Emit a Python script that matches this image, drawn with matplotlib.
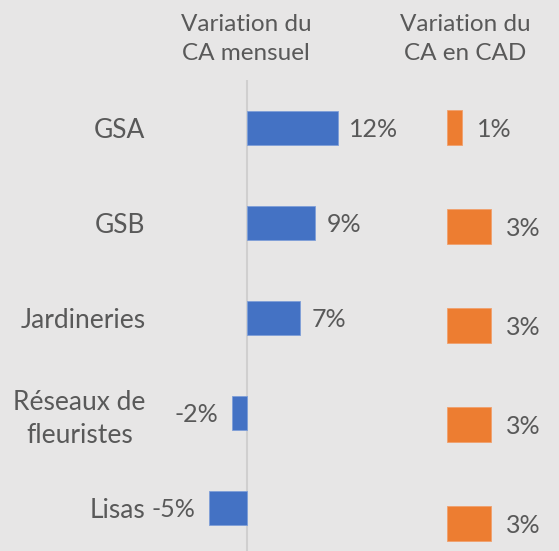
import matplotlib
matplotlib.use("Agg")
import matplotlib.pyplot as plt
import matplotlib.transforms as mtransforms

plt.rcParams['font.family'] = ['Lato', 'DejaVu Sans']

categories = ["GSA", "GSB", "Jardineries", "Réseaux de\nfleuristes", "Lisas"]
var_mensuel = [12, 9, 7, -2, -5]
var_cad = [1, 3, 3, 3, 3]
title_left = "Variation du\nCA mensuel"
title_right = "Variation du\nCA en CAD"

BG = "#E7E6E6"
TXT = "#595959"
BLUE = "#4472C4"
ORANGE = "#ED7D31"

W, H = 559, 551
fig = plt.figure(figsize=(W / 100, H / 100), dpi=100, facecolor=BG)


def add_px_axes(x0, y0, x1, y1):
    # pixel coords from top-left
    return fig.add_axes([x0 / W, 1 - y1 / H, (x1 - x0) / W, (y1 - y0) / H])


def px(dx, dy):
    return mtransforms.ScaledTranslation(dx / 100, -dy / 100, fig.dpi_scale_trans)


# ---- left panel
axL = add_px_axes(190, 80, 350, 551)
axL.set_facecolor("none")
pos = list(range(len(categories)))
axL.barh(pos, var_mensuel, height=0.35, color=BLUE, edgecolor="#7f9fd8", linewidth=0.6, zorder=3)
axL.set_xlim(-7.5, 13.55)
axL.set_ylim(4.453, -0.505)
axL.axvline(0, color="#D0CFCF", lw=1.5, zorder=2)
for sp in axL.spines.values():
    sp.set_visible(False)
axL.set_xticks([])
axL.set_yticks(pos)
axL.set_yticklabels(categories, fontsize=19, color=TXT, linespacing=1.4)
for t in axL.get_yticklabels():
    t.set_multialignment("center")
axL.tick_params(axis="y", length=0, pad=32)
for i, v in enumerate(var_mensuel):
    off = px(11, 2) if v >= 0 else px(-14, 2)
    axL.text(v, i, f"{v}%", ha="left" if v >= 0 else "right", va="center",
             fontsize=18, color=TXT, transform=axL.transData + off)

# ---- right panel
axR = add_px_axes(400, 80, 559, 551)
axR.set_facecolor("none")
axR.barh(pos, var_cad, height=0.354, color=ORANGE, edgecolor="#f1a06c", linewidth=0.6, zorder=3)
axR.set_xlim(-3.18, 7.57)
axR.set_ylim(4.278, -0.48)
for sp in axR.spines.values():
    sp.set_visible(False)
axR.set_xticks([])
axR.set_yticks([])
for i, v in enumerate(var_cad):
    axR.text(v, i, f"{v}%", ha="left", va="center", fontsize=18, color=TXT,
             transform=axR.transData + px(15, 2))

fig.text(246 / W, 1 - 39 / H, title_left, ha="center", va="center", fontsize=17.5,
         color=TXT, linespacing=1.5)
fig.text(465 / W, 1 - 39 / H, title_right, ha="center", va="center", fontsize=17.5,
         color=TXT, linespacing=1.5)

fig.savefig("out.png", dpi=100, facecolor=BG)
